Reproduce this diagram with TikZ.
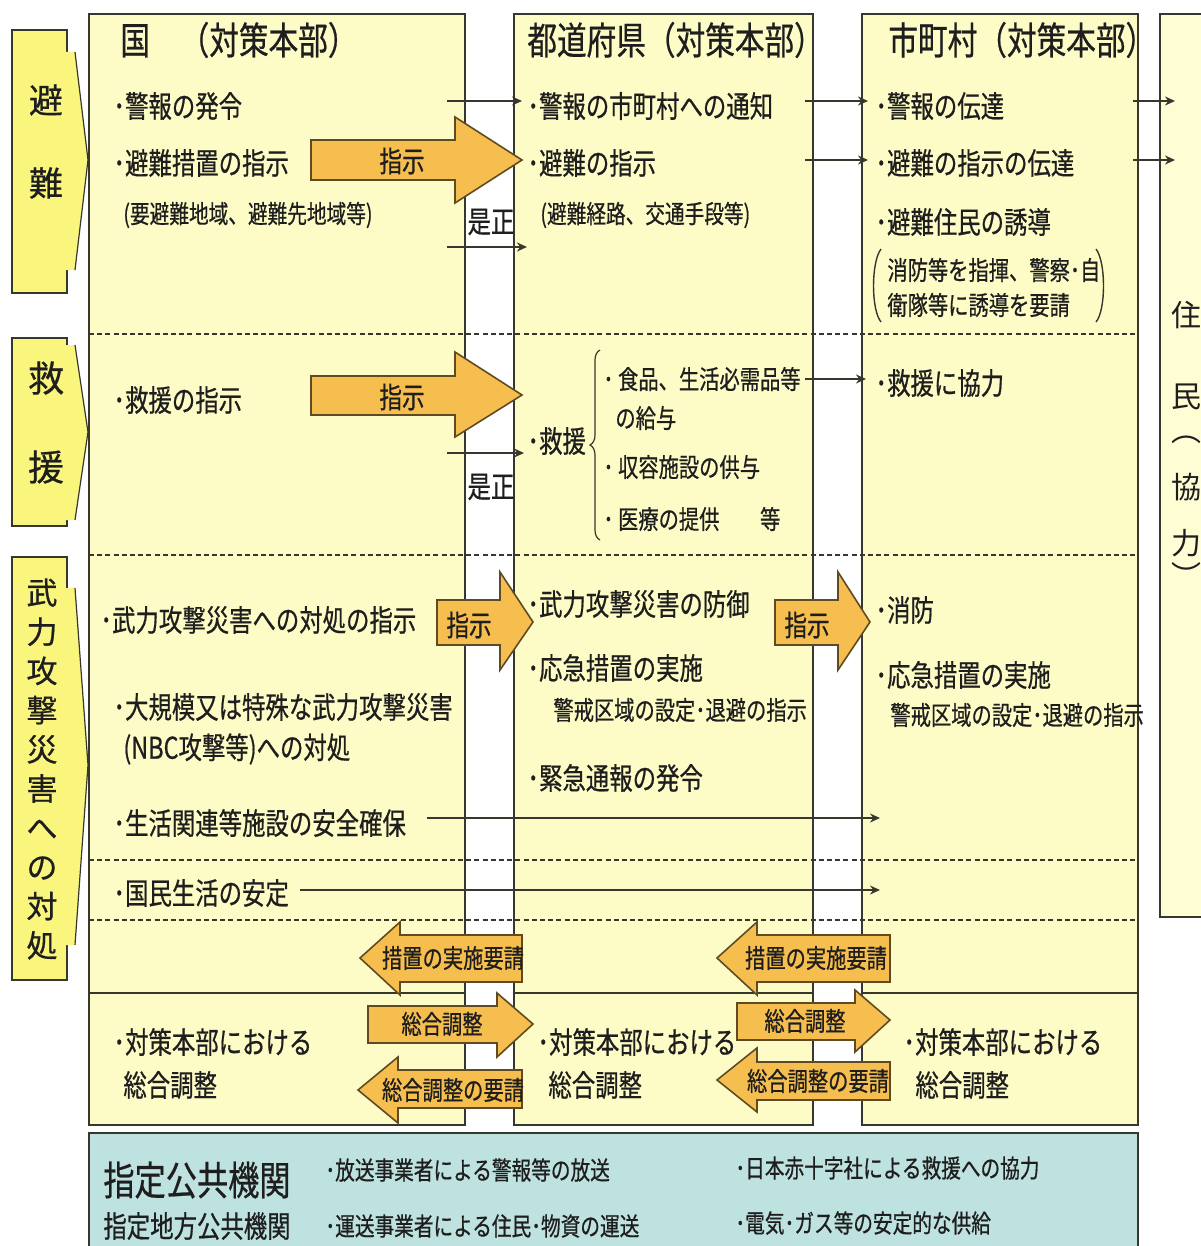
\documentclass[tikz,border=0pt]{standalone}
\usepackage{fontspec}
\setmainfont{Noto Sans CJK JP}[FakeStretch=0.78,FakeBold=0.6]
\newfontfamily\catfont{Noto Sans CJK JP}[FakeBold=0.6]
\newfontfamily\thinfont{Noto Sans CJK JP}
\usetikzlibrary{arrows.meta,decorations.pathreplacing}
\definecolor{boxy}{RGB}{254,252,198}
\definecolor{caty}{RGB}{250,246,125}
\definecolor{jumin}{RGB}{254,253,212}
\definecolor{arrf}{RGB}{246,190,78}
\definecolor{arrd}{RGB}{95,75,35}
\definecolor{linec}{RGB}{55,55,45}
\definecolor{txtc}{RGB}{30,30,30}
\definecolor{bluef}{RGB}{190,226,223}
\tikzset{
  colbox/.style={draw=linec, fill=boxy, line width=0.8pt},
  catbox/.style={draw=linec, fill=caty, line width=0.8pt},
  bluebox/.style={draw=linec, fill=bluef, line width=0.8pt},
  dline/.style={draw=linec, line width=0.8pt, dash pattern=on 2.5pt off 1.6pt},
  thinarr/.style={draw=linec, line width=0.9pt, -{Stealth[length=5pt,width=4.5pt]}},
  barrow/.style={fill=arrf, draw=arrd, line width=0.8pt},
  txt/.style={anchor=west, inner sep=0pt, text=txtc, font=\fontsize{15}{17}\selectfont},
  stxt/.style={anchor=west, inner sep=0pt, text=txtc, font=\fontsize{12.6}{14}\selectfont},
  mtxt/.style={anchor=west, inner sep=0pt, text=txtc, font=\fontsize{13}{15}\selectfont},
  ttl/.style={anchor=west, inner sep=0pt, text=txtc, font=\fontsize{19}{21}\selectfont},
  atext/.style={inner sep=0pt, text=txtc, font=\fontsize{13}{15}\selectfont},
  ctext/.style={inner sep=0pt, text=txtc},
  jtext/.style={inner sep=0pt, text=txtc, font=\thinfont\fontsize{15}{17}\selectfont},
}
\begin{document}
\begin{tikzpicture}[x=0.5pt,y=-0.5pt]
\useasboundingbox (0,0) rectangle (1200,1246);
\fill[white] (0,0) rectangle (1200,1246);

% ---- column boxes
\path[colbox] (89,14) rectangle (465,993);
\path[colbox] (514,14) rectangle (813,993);
\path[colbox] (862,14) rectangle (1138,993);
\path[colbox] (89,993) rectangle (465,1125);
\path[colbox] (514,993) rectangle (813,1125);
\path[colbox] (862,993) rectangle (1138,1125);
\path[colbox, fill=jumin] (1160,14) rectangle (1230,917);
\path[bluebox] (89,1133) rectangle (1138,1262);

% ---- dashed dividers
\draw[dline] (89,334) -- (1138,334);
\draw[dline] (89,555) -- (1138,555);
\draw[dline] (89,860) -- (1138,860);
\draw[dline] (89,920) -- (1138,920);

% ---- category boxes
\path[catbox] (12,30) rectangle (67,293);
\path[fill=caty] (66,52) -- (75,52) -- (88,160) -- (75,270) -- (66,270) -- cycle;
\draw[linec, line width=0.6pt] (75,52) -- (88,160) -- (75,270);
\node[ctext, font=\catfont\fontsize{17}{19}\selectfont] (catA1) at (46,100) {避};
\node[ctext, font=\catfont\fontsize{17}{19}\selectfont] (catA2) at (46,183) {難};

\path[catbox] (12,338) rectangle (67,526);
\path[fill=caty] (66,345) -- (75,345) -- (88,432) -- (75,520) -- (66,520) -- cycle;
\draw[linec, line width=0.6pt] (75,345) -- (88,432) -- (75,520);
\node[ctext, font=\catfont\fontsize{18}{20}\selectfont] (catB1) at (46,378) {救};
\node[ctext, font=\catfont\fontsize{18}{20}\selectfont] (catB2) at (46,467) {援};

\path[catbox] (12,557) rectangle (67,980);
\path[fill=caty] (66,588) -- (75,588) -- (88,765) -- (75,945) -- (66,945) -- cycle;
\draw[linec, line width=0.6pt] (75,588) -- (88,765) -- (75,945);
\node[ctext, align=center, font=\catfont\fontsize{15.5}{19.6}\selectfont] (catC) at (42,769)
  {武\\力\\攻\\撃\\災\\害\\へ\\の\\対\\処};

% ---- titles
\node[ttl] (tK) at (120,40) {国　（対策本部）};
\node[ttl] (tP) at (527,40) {都道府県（対策本部）};
\node[ttl] (tM) at (888,40) {市町村（対策本部）};

% ---- block arrows (right)
\path[barrow] (311,140) -- (455,140) -- (455,117) -- (522,160) -- (455,203) -- (455,180) -- (311,180) -- cycle;
\node[atext, font=\fontsize{14.5}{16}\selectfont] (ba1) at (402,161) {指示};
\path[barrow] (311,376) -- (455,376) -- (455,352) -- (522,395) -- (455,437) -- (455,415) -- (311,415) -- cycle;
\node[atext, font=\fontsize{14.5}{16}\selectfont] (ba2) at (402,397) {指示};
\path[barrow] (437,600) -- (500,600) -- (500,572) -- (533,622) -- (500,670) -- (500,645) -- (437,645) -- cycle;
\node[atext, font=\fontsize{14.5}{16}\selectfont] (ba3) at (469,625) {指示};
\path[barrow] (775,600) -- (838,600) -- (838,572) -- (870,622) -- (838,670) -- (838,645) -- (775,645) -- cycle;
\node[atext, font=\fontsize{14.5}{16}\selectfont] (ba4) at (807,625) {指示};
% left arrows 措置の実施要請
\path[barrow] (360,958) -- (400,922) -- (400,935) -- (522,935) -- (522,982) -- (400,982) -- (400,995) -- cycle;
\node[atext] (ba5) at (453,958) {措置の実施要請};
\path[barrow] (717,958) -- (757,922) -- (757,935) -- (890,935) -- (890,982) -- (757,982) -- (757,995) -- cycle;
\node[atext] (ba6) at (816,958) {措置の実施要請};
% 総合調整
\path[barrow] (368,1006) -- (497,1006) -- (497,993) -- (533,1024) -- (497,1057) -- (497,1043) -- (368,1043) -- cycle;
\node[atext] (ba7) at (442,1024) {総合調整};
\path[barrow] (737,1003) -- (855,1003) -- (855,990) -- (890,1020) -- (855,1052) -- (855,1040) -- (737,1040) -- cycle;
\node[atext] (ba8) at (805,1021) {総合調整};
% 総合調整の要請
\path[barrow] (358,1090) -- (398,1057) -- (398,1070) -- (522,1070) -- (522,1108) -- (398,1108) -- (398,1123) -- cycle;
\node[atext] (ba9) at (453,1090) {総合調整の要請};
\path[barrow] (717,1080) -- (757,1048) -- (757,1062) -- (890,1062) -- (890,1100) -- (757,1100) -- (757,1112) -- cycle;
\node[atext] (ba10) at (818,1081) {総合調整の要請};

% ---- 国 column text
\node[txt] (k1) at (113,106) {･警報の発令};
\node[txt] (k2) at (113,163) {･避難措置の指示};
\node[stxt] (k3) at (123,215) {(要避難地域、避難先地域等)};
\node[txt] (k4) at (113,400) {･救援の指示};
\node[txt] (k5) at (100,620) {･武力攻撃災害への対処の指示};
\node[txt] (k6) at (113,707) {･大規模又は特殊な武力攻撃災害};
\node[txt] (k7) at (123,749) {(NBC攻撃等)への対処};
\node[txt] (k8) at (113,823) {･生活関連等施設の安全確保};
\node[txt] (k9) at (113,893) {･国民生活の安定};
\node[txt] (k10) at (113,1042) {･対策本部における};
\node[txt] (k11) at (123,1085) {総合調整};

% ---- 都道府県 column text
\node[txt] (p1) at (527,106) {･警報の市町村への通知};
\node[txt] (p2) at (527,163) {･避難の指示};
\node[stxt] (p3) at (540,215) {(避難経路、交通手段等)};
\node[txt] (p4) at (527,441) {･救援};
\draw[linec, line width=0.6pt, decorate, decoration={brace, amplitude=5pt}] (600,540) -- (600,350);
\node[mtxt] (p5) at (603,379) {･ 食品、生活必需品等};
\node[mtxt] (p6) at (615,418) {の給与};
\node[mtxt] (p7) at (603,467) {･ 収容施設の供与};
\node[mtxt] (p8) at (603,519) {･ 医療の提供　　等};
\node[txt] (p9) at (527,604) {･武力攻撃災害の防御};
\node[txt] (p10) at (527,668) {･応急措置の実施};
\node[mtxt] (p11) at (553,710) {警戒区域の設定･退避の指示};
\node[txt] (p12) at (527,778) {･緊急通報の発令};
\node[txt] (p13) at (537,1042) {･対策本部における};
\node[txt] (p14) at (548,1085) {総合調整};

% ---- 市町村 column text
\node[txt] (m1) at (875,106) {･警報の伝達};
\node[txt] (m2) at (875,163) {･避難の指示の伝達};
\node[txt] (m3) at (875,222) {･避難住民の誘導};
\node[mtxt] (m4) at (887,270) {消防等を指揮、警察･自};
\node[mtxt] (m5) at (887,305) {衛隊等に誘導を要請};
\draw[linec, line width=0.7pt] (881,249) .. controls (871,262) and (871,310) .. (881,322);
\draw[linec, line width=0.7pt] (1096,249) .. controls (1106,262) and (1106,310) .. (1096,322);
\node[txt] (m6) at (875,383) {･救援に協力};
\node[txt] (m7) at (875,610) {･消防};
\node[txt] (m8) at (875,675) {･応急措置の実施};
\node[mtxt] (m9) at (890,715) {警戒区域の設定･退避の指示};
\node[txt] (m10) at (903,1042) {･対策本部における};
\node[txt] (m11) at (915,1085) {総合調整};

% ---- 住民
\node[jtext] (j1) at (1186,315) {住};
\node[jtext] (j2) at (1186,397) {民};
\node[jtext] (j3) at (1186,440) {︵};
\node[jtext] (j4) at (1186,487) {協};
\node[jtext] (j5) at (1186,543) {力};
\node[jtext, anchor=north] (j6) at (1186,562) {︶};

% ---- 是正
\node[ctext, font=\fontsize{15}{17}\selectfont] (z1) at (491,222) {是正};
\node[ctext, font=\fontsize{15}{17}\selectfont] (z2) at (491,487) {是正};

% ---- thin arrows
\coordinate (s1) at (447,101); \coordinate (e1) at (522,101);
\coordinate (s2) at (447,247); \coordinate (e2) at (527,247);
\coordinate (s3) at (805,101); \coordinate (e3) at (868,101);
\coordinate (s4) at (805,160); \coordinate (e4) at (868,160);
\coordinate (s5) at (1133,101); \coordinate (e5) at (1175,101);
\coordinate (s6) at (1133,160); \coordinate (e6) at (1175,160);
\coordinate (s7) at (447,453); \coordinate (e7) at (524,453);
\coordinate (s8) at (805,379); \coordinate (e8) at (866,379);
\coordinate (s9) at (427,818); \coordinate (e9) at (880,818);
\coordinate (s10) at (300,890); \coordinate (e10) at (880,890);
\foreach \i in {1,...,10} {\draw[thinarr] (s\i) -- (e\i);}

% ---- bottom blue box text
\node[ttl, font=\fontsize{20}{22}\selectfont] (b1) at (103,1180) {指定公共機関};
\node[txt, font=\fontsize{15}{17}\selectfont] (b2) at (103,1226) {指定地方公共機関};
\node[stxt] (b3) at (325,1170) {･放送事業者による警報等の放送};
\node[stxt] (b4) at (325,1226) {･運送事業者による住民･物資の運送};
\node[stxt] (b5) at (735,1168) {･日本赤十字社による救援への協力};
\node[stxt] (b6) at (735,1223) {･電気･ガス等の安定的な供給};
\end{tikzpicture}
\end{document}
